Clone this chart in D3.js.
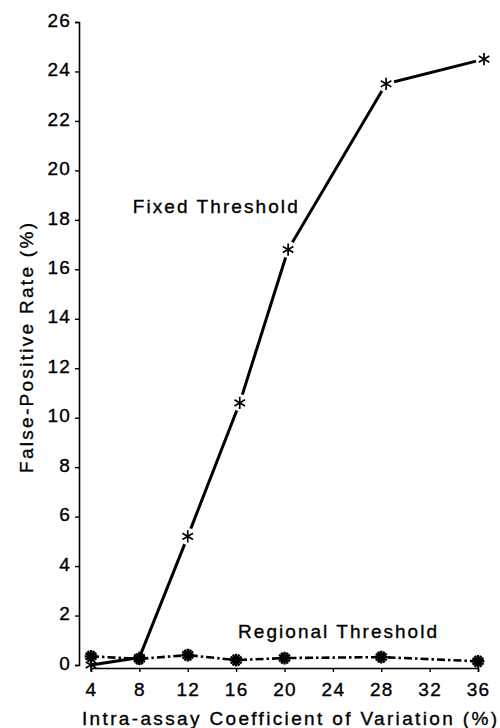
<!DOCTYPE html>
<html>
<head>
<meta charset="utf-8">
<script src="https://cdn.jsdelivr.net/npm/d3@7"></script>
<style>
  html, body { margin: 0; padding: 0; background: #fff; }
  svg { display: block; }
  text { font-family: "Liberation Sans", Arial, Helvetica, sans-serif; fill: #000; }
</style>
</head>
<body>
<svg id="chart" width="500" height="728"></svg>
<script>
// ---- data ----
const fixedX       = [4, 8, 12, 16.3, 20.3, 28.4, 36.5];
const fixedRate    = [0, 0.3, 5.2, 10.6, 16.8, 23.5, 24.5];
const regionalX    = [4, 8, 12, 16, 20, 28, 36];
const regionalRate = [0.35, 0.25, 0.4, 0.2, 0.28, 0.32, 0.15];
const xTicks = [4, 8, 12, 16, 20, 24, 28, 32, 36];
const yTicks = [0, 2, 4, 6, 8, 10, 12, 14, 16, 18, 20, 22, 24, 26];
const xTitle = "Intra-assay Coefficient of Variation (%)";
const yTitle = "False-Positive Rate (%)";
const fixedLabel = "Fixed Threshold";
const regionalLabel = "Regional Threshold";

const svg = d3.select("#chart");

const x = d3.scaleLinear().domain([4, 36]).range([91, 478]);
const y = d3.scaleLinear().domain([0, 26]).range([665, 22]);

const axisX0 = 79;   // y-axis position
const axisY0 = 668;  // x-axis position

const textStyle = sel => sel
  .style("font-size", "19px")
  .style("font-family", '"Liberation Sans", Arial, sans-serif')
  .attr("fill", "#000")
  .attr("stroke", "#000")
  .attr("stroke-width", 0.35);

// y axis
const gy = svg.append("g")
  .attr("transform", `translate(${axisX0},0)`)
  .call(d3.axisLeft(y).tickValues(yTicks).tickSize(4).tickPadding(4).tickFormat(d3.format("d")));
gy.select(".domain").attr("stroke", "#000").attr("stroke-width", 1.6);
gy.selectAll(".tick line").attr("stroke", "#000").attr("stroke-width", 1.4);
gy.selectAll(".tick text")
  .attr("dy", "0.22em")
  .call(textStyle)
  .style("letter-spacing", "1.2px");

// x axis
const gx = svg.append("g")
  .attr("transform", `translate(0,${axisY0})`)
  .call(d3.axisBottom(x).tickValues(xTicks).tickSize(4).tickPadding(11).tickFormat(d3.format("d")));
gx.select(".domain").attr("stroke", "#000").attr("stroke-width", 1.6);
gx.selectAll(".tick line").attr("stroke", "#000").attr("stroke-width", 1.4);
gx.selectAll(".tick text")
  .attr("dy", "0.68em")
  .call(textStyle)
  .style("letter-spacing", "1.2px");

// axis titles
svg.append("text")
  .attr("x", 82).attr("y", 725)
  .attr("textLength", 415).attr("lengthAdjust", "spacing")
  .call(textStyle)
  .text(xTitle);

svg.append("text")
  .attr("transform", `translate(33,473) rotate(-90)`)
  .attr("textLength", 250).attr("lengthAdjust", "spacing")
  .call(textStyle)
  .text(yTitle);

// data tables
const fixed = fixedX.map((v, i) => ({x: v, y: fixedRate[i]}));
const regional = regionalX.map((v, i) => ({x: v, y: regionalRate[i]}));

const line = d3.line().x(d => x(d.x)).y(d => y(d.y));

// fixed threshold line
svg.append("path")
  .datum(fixed)
  .attr("d", line)
  .attr("fill", "none")
  .attr("stroke", "#000")
  .attr("stroke-width", 3);

// white halos around the fixed markers (gaps in line), except the first two
svg.append("g").selectAll("circle")
  .data(fixed.slice(2))
  .join("circle")
  .attr("cx", d => x(d.x)).attr("cy", d => y(d.y))
  .attr("r", 8.5)
  .attr("fill", "#fff");

const star = d3.symbol().type(d3.symbolAsterisk).size(105);

svg.append("g").selectAll("path")
  .data(fixed)
  .join("path")
  .attr("transform", d => `translate(${x(d.x)},${y(d.y)})`)
  .attr("d", star)
  .attr("fill", "none")
  .attr("stroke", "#000")
  .attr("stroke-width", 1.7);

// regional threshold line (dash-dot)
svg.append("path")
  .datum(regional)
  .attr("d", line)
  .attr("fill", "none")
  .attr("stroke", "#000")
  .attr("stroke-width", 2.6)
  .attr("stroke-dasharray", "8,3,2.5,3");

// regional markers (bold starbursts)
const boldStar = d3.symbol().type(d3.symbolAsterisk).size(115);
const rg = svg.append("g").selectAll("g")
  .data(regional)
  .join("g")
  .attr("transform", d => `translate(${x(d.x)},${y(d.y)})`);
rg.append("path").attr("d", boldStar)
  .attr("fill", "none").attr("stroke", "#000").attr("stroke-width", 2.4);
rg.append("path").attr("d", boldStar).attr("transform", "rotate(90)")
  .attr("fill", "none").attr("stroke", "#000").attr("stroke-width", 2.4);
rg.append("circle").attr("r", 2.2).attr("fill", "#000");

// annotations
svg.append("text")
  .attr("x", x(7.45)).attr("y", y(18.28))
  .attr("textLength", 165).attr("lengthAdjust", "spacing")
  .call(textStyle)
  .text(fixedLabel);

svg.append("text")
  .attr("x", x(16.16)).attr("y", y(1.1))
  .attr("textLength", 199).attr("lengthAdjust", "spacing")
  .call(textStyle)
  .text(regionalLabel);
</script>
</body>
</html>
